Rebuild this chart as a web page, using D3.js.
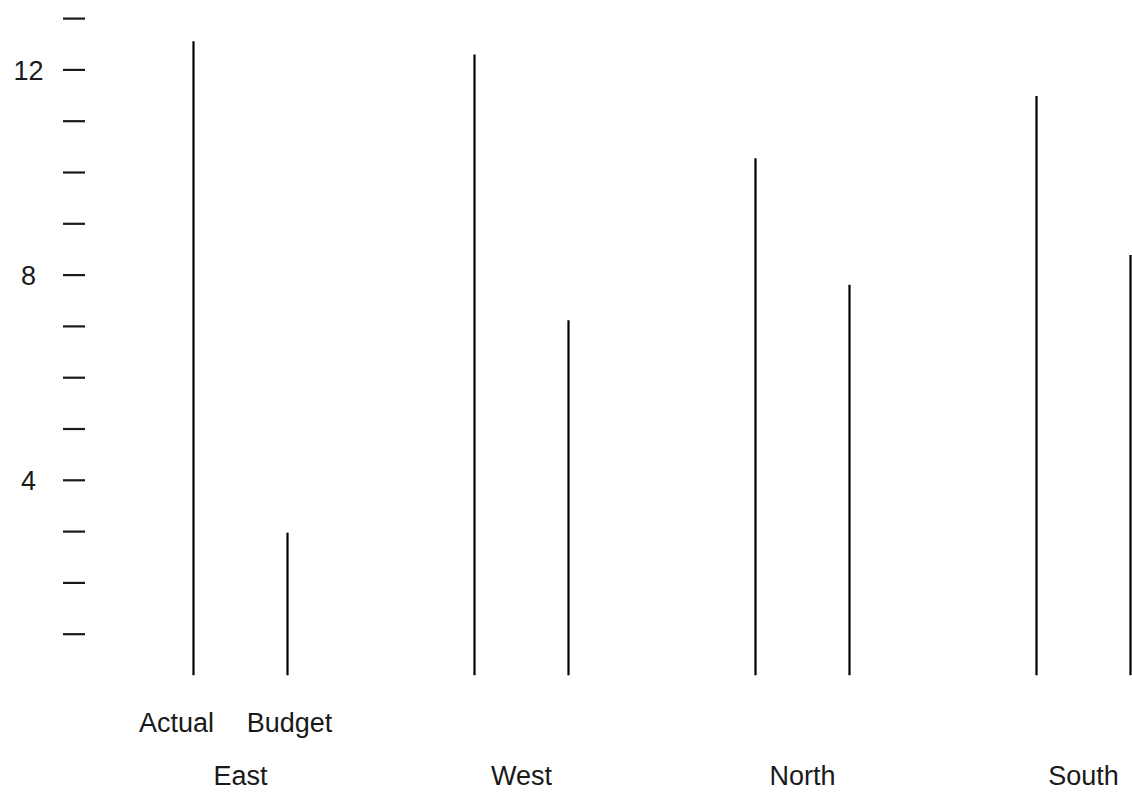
<!DOCTYPE html>
<html><head><meta charset="utf-8">
<script src="https://cdn.jsdelivr.net/npm/d3@7"></script>
<style>html,body{margin:0;padding:0;background:#fff;}svg{display:block;}</style>
</head><body>
<script>
const regions = ["East", "West", "North", "South"];
const series = ["Actual", "Budget"];
const actual = [12.56, 12.30, 10.28, 11.49];
const budget = [2.98, 7.12, 7.81, 8.39];
const tickValues = [1,2,3,4,5,6,7,8,9,10,11,12,13];
const labeledTicks = [4, 8, 12];
const baseValue = 0.2;

const W = 1132, H = 793;
const svg = d3.select("body").append("svg").attr("width", W).attr("height", H);
const font = "Liberation Sans, Arial, Helvetica, sans-serif";
const ink = "#1a1a1a";
const fs = 27;

const y = d3.scaleLinear().domain([0, 13]).range([685.5, 18.6]);
const x0 = d3.scaleBand().domain(regions).range([100, 1224]).paddingInner(0).paddingOuter(0);
const x1 = d3.scalePoint().domain(series).range([93.5, 187.5]);

// Y ticks
const yg = svg.append("g");
yg.selectAll("line").data(tickValues).join("line")
  .attr("x1", 63).attr("x2", 85)
  .attr("y1", d => y(d)).attr("y2", d => y(d))
  .attr("stroke", ink).attr("stroke-width", 2.2);
yg.selectAll("text").data(labeledTicks).join("text")
  .attr("x", 28.5).attr("y", d => y(d)).attr("dy", "0.36em")
  .attr("text-anchor", "middle").attr("font-family", font).attr("font-size", fs)
  .attr("fill", ink).text(d => d);

// Bars (lines)
const data = [];
regions.forEach((r, i) => {
  data.push({region: r, s: "Actual", v: actual[i]});
  data.push({region: r, s: "Budget", v: budget[i]});
});
svg.append("g").selectAll("line").data(data).join("line")
  .attr("x1", d => x0(d.region) + x1(d.s))
  .attr("x2", d => x0(d.region) + x1(d.s))
  .attr("y1", y(baseValue)).attr("y2", d => y(d.v))
  .attr("stroke", "#000").attr("stroke-width", 2.2);

// Sub labels under first group
const subShift = {Actual: -17, Budget: 2};
svg.append("g").selectAll("text").data(series).join("text")
  .attr("x", d => x0(regions[0]) + x1(d) + subShift[d]).attr("y", 732)
  .attr("text-anchor", "middle").attr("font-family", font).attr("font-size", fs)
  .attr("fill", ink).text(d => d);

// Group labels
svg.append("g").selectAll("text").data(regions).join("text")
  .attr("x", d => x0(d) + x0.bandwidth() / 2).attr("y", 785)
  .attr("text-anchor", "middle").attr("font-family", font).attr("font-size", fs)
  .attr("fill", ink).text(d => d);
</script>
</body></html>
